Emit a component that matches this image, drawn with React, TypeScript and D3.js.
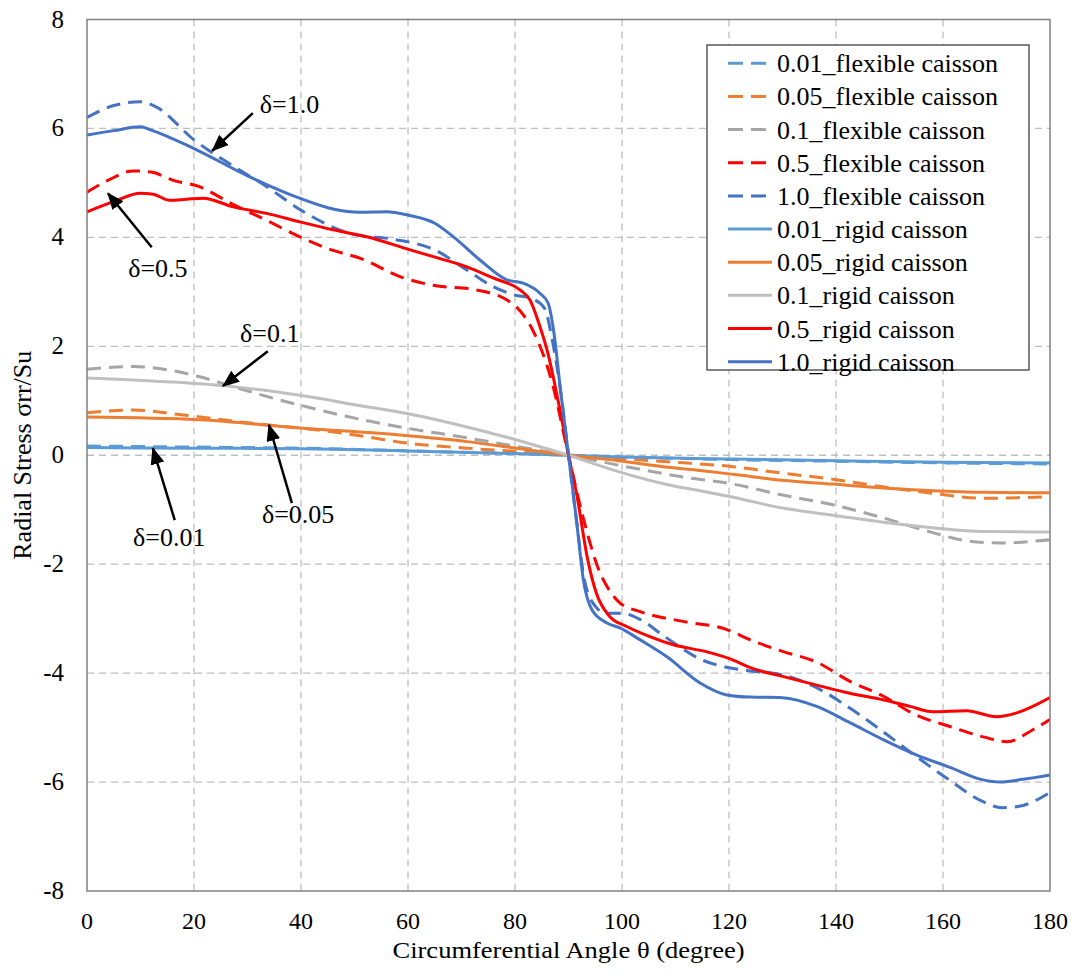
import React from "react";
import * as d3 from "d3";

// ---------- data ----------
const xTicks = [0, 20, 40, 60, 80, 100, 120, 140, 160, 180];
const yTicks = [-8, -6, -4, -2, 0, 2, 4, 6, 8];

const ang001f = [0, 20, 40, 60, 80, 90, 100, 120, 140, 160, 180];
const val001f = [0.17, 0.15, 0.13, 0.08, 0.03, 0, -0.03, -0.08, -0.11, -0.14, -0.16];

const ang005f = [0, 8.6, 18, 30.5, 39.8, 52.3, 58.5, 71, 80.3, 90, 108.6, 120.8, 130, 139.4, 148.8, 158.1, 167.5, 177, 180];
const val005f = [0.78, 0.83, 0.74, 0.59, 0.5, 0.34, 0.24, 0.13, 0.07, 0, -0.12, -0.21, -0.33, -0.44, -0.58, -0.7, -0.79, -0.77, -0.76];

const ang01f = [0, 8.6, 14.9, 21.1, 27.3, 33.6, 39.8, 46, 58.5, 71, 80.3, 90, 102.4, 111.4, 120.8, 130, 139.4, 148.8, 158.1, 164.4, 170.7, 178, 180];
const val01f = [1.58, 1.63, 1.57, 1.44, 1.26, 1.08, 0.92, 0.77, 0.52, 0.32, 0.16, 0, -0.24, -0.4, -0.53, -0.73, -0.91, -1.15, -1.42, -1.57, -1.61, -1.57, -1.55];

const ang05f = [0, 4, 8.6, 12, 16, 21, 27, 33.6, 40, 46, 51, 58.5, 64.7, 73, 78.5, 80.3, 83.3, 87, 90, 92.7, 95.9, 97.2, 99.6, 103.4, 111.4, 119.6, 124, 130, 136.4, 142.6, 148.8, 155, 161.3, 167.5, 172, 176.8, 180];
const val05f = [4.83, 5.05, 5.22, 5.2, 5.05, 4.93, 4.62, 4.31, 4.0, 3.76, 3.62, 3.28, 3.12, 3.03, 2.85, 2.72, 2.3, 1.31, 0, -1.13, -2.16, -2.41, -2.71, -2.87, -3.05, -3.2, -3.39, -3.6, -3.8, -4.15, -4.42, -4.77, -4.98, -5.17, -5.26, -5.04, -4.85];

const ang10f = [0, 5, 10, 13, 20, 27, 33.6, 40, 50, 57, 65, 71, 76, 80, 83, 85.5, 87, 88.5, 90, 91.5, 93, 95, 97, 100, 103.5, 108, 115, 120, 124, 130, 136, 143, 149, 155, 161, 167.5, 171, 174, 180];
const val10f = [6.2, 6.42, 6.49, 6.39, 5.79, 5.33, 4.93, 4.5, 4.05, 3.97, 3.77, 3.4, 3.09, 2.94, 2.88, 2.7, 2.1, 1.2, 0, -1.2, -2.3, -2.77, -2.9, -2.9, -3.02, -3.33, -3.76, -3.9, -3.96, -4.03, -4.25, -4.67, -5.09, -5.53, -5.95, -6.36, -6.47, -6.45, -6.19];

const ang001r = [0, 20, 40, 60, 80, 90, 100, 120, 140, 160, 180];
const val001r = [0.14, 0.13, 0.12, 0.08, 0.03, 0, -0.03, -0.07, -0.1, -0.13, -0.14];

const ang005r = [0, 21, 39.8, 58.5, 71, 80.3, 90, 99.3, 108.6, 114.6, 120.8, 130, 139.4, 148.8, 158.1, 167.5, 180];
const val005r = [0.7, 0.65, 0.5, 0.37, 0.25, 0.13, 0, -0.1, -0.22, -0.28, -0.35, -0.46, -0.53, -0.6, -0.65, -0.68, -0.69];

const ang01r = [0, 14.9, 27.3, 39.8, 52.3, 58.5, 71, 80.3, 90, 99.3, 108.6, 114.6, 120.8, 130, 139.4, 148.8, 158.1, 167.5, 180];
const val01r = [1.42, 1.35, 1.26, 1.1, 0.89, 0.79, 0.52, 0.28, 0, -0.3, -0.54, -0.65, -0.77, -0.97, -1.1, -1.23, -1.33, -1.4, -1.41];

const ang05r = [0, 5.6, 9.9, 12.4, 15.5, 18.6, 21.7, 27.3, 33.6, 40, 46, 52.3, 60.4, 66, 71, 76, 81, 82.8, 84.7, 86, 88.4, 90, 91.5, 93.6, 95.2, 97.7, 100.8, 105.2, 109.6, 115.9, 120.8, 124, 130, 136.4, 142.6, 148.8, 153.8, 158.1, 164.4, 170, 173.8, 180];
const val05r = [4.47, 4.68, 4.81, 4.79, 4.68, 4.7, 4.72, 4.56, 4.44, 4.28, 4.14, 4.01, 3.77, 3.61, 3.46, 3.25, 3.03, 2.85, 2.35, 1.93, 0.83, 0, -0.7, -1.92, -2.53, -2.96, -3.14, -3.33, -3.48, -3.61, -3.76, -3.9, -4.06, -4.22, -4.37, -4.49, -4.61, -4.71, -4.69, -4.8, -4.73, -4.45];

const ang10r = [0, 5, 10, 12, 20, 30, 40, 46, 51, 56, 60, 65, 68.5, 73.5, 78.5, 81.5, 84.7, 86.2, 87.2, 88.5, 90, 91.5, 92.8, 94.4, 97.2, 99.6, 103.4, 108.4, 114.6, 119.6, 124, 130, 136.4, 142.6, 148.8, 155, 161.3, 167.5, 170.7, 175, 180];
const val10r = [5.88, 5.96, 6.03, 5.97, 5.63, 5.13, 4.71, 4.52, 4.46, 4.47, 4.41, 4.26, 4.01, 3.58, 3.22, 3.16, 2.97, 2.79, 2.3, 1.2, 0, -1.2, -2.3, -2.84, -3.08, -3.17, -3.39, -3.7, -4.18, -4.4, -4.44, -4.45, -4.61, -4.91, -5.22, -5.5, -5.73, -5.96, -6.0, -5.95, -5.87];

const seriesNames = [
  "0.01_flexible caisson", "0.05_flexible caisson", "0.1_flexible caisson", "0.5_flexible caisson", "1.0_flexible caisson",
  "0.01_rigid caisson", "0.05_rigid caisson", "0.1_rigid caisson", "0.5_rigid caisson", "1.0_rigid caisson",
];
const seriesAngles = [ang001f, ang005f, ang01f, ang05f, ang10f, ang001r, ang005r, ang01r, ang05r, ang10r];
const seriesValues = [val001f, val005f, val01f, val05f, val10f, val001r, val005r, val01r, val05r, val10r];
const seriesColors = ["#5B9BD5", "#ED7D31", "#A5A5A5", "#FF0000", "#4472C4", "#5B9BD5", "#ED7D31", "#BFBFBF", "#FF0000", "#4472C4"];
const seriesDashed = [true, true, true, true, true, false, false, false, false, false];

// annotations in data units: label, text position, arrow tail, arrow tip
const annLabels = ["δ=1.0", "δ=0.5", "δ=0.1", "δ=0.05", "δ=0.01"];
const annText = [[32.3, 6.28], [7.7, 3.27], [28.6, 2.08], [32.7, -1.24], [8.6, -1.67]];
const annTail = [[31.0, 6.28], [12.1, 3.82], [33.8, 1.91], [38.3, -0.88], [16.4, -1.19]];
const annTip = [[23.4, 5.59], [3.9, 4.81], [25.4, 1.27], [34.0, 0.56], [12.3, 0.13]];

// ---------- layout ----------
const W = 1078, H = 978;
const L = 87, R = 1050, T = 19.5, B = 891;
const FONT = "'Liberation Serif', 'Times New Roman', serif";

export default function App() {
  const x = d3.scaleLinear().domain([0, 180]).range([L, R]);
  const y = d3.scaleLinear().domain([-8, 8]).range([B, T]);
  const line = d3.line<[number, number]>()
    .x((d) => x(d[0]))
    .y((d) => y(d[1]))
    .curve(d3.curveMonotoneX);

  const legendX = 707, legendY = 45, legendW = 322, legendH = 325;
  const rowH = 33.15, row0 = 63.3;

  return (
    <svg width={W} height={H} style={{ position: "absolute", left: 0, top: 0, background: "#fff", fontFamily: FONT }}>
      <defs>
        <marker id="arrow" markerUnits="userSpaceOnUse" markerWidth="18" markerHeight="14" refX="16" refY="7" orient="auto">
          <path d="M0,0 L17,7 L0,14 Z" fill="#000" />
        </marker>
        <clipPath id="plotclip">
          <rect x={L} y={T} width={R - L} height={B - T} />
        </clipPath>
      </defs>
      <rect x={0} y={0} width={W} height={H} fill="#fff" />

      {/* grid */}
      {xTicks.filter((t) => t > 0 && t < 180).map((t) => (
        <line key={"gx" + t} x1={x(t)} x2={x(t)} y1={T} y2={B} stroke="#BFBFBF" strokeWidth={1.3} strokeDasharray="7,5" />
      ))}
      {yTicks.filter((t) => t > -8 && t < 8).map((t) => (
        <line key={"gy" + t} x1={L} x2={R} y1={y(t)} y2={y(t)} stroke="#BFBFBF" strokeWidth={1.3} strokeDasharray="7,5" />
      ))}

      {/* series */}
      <g clipPath="url(#plotclip)">
        {seriesNames.map((n, i) => {
          const pts = seriesAngles[i].map((a, j) => [a, seriesValues[i][j]] as [number, number]);
          return (
            <path key={n} d={line(pts) || ""} fill="none" stroke={seriesColors[i]} strokeWidth={3}
              strokeDasharray={seriesDashed[i] ? "14,8" : undefined} strokeLinejoin="round" />
          );
        })}
      </g>

      {/* plot border */}
      <rect x={L} y={T} width={R - L} height={B - T} fill="none" stroke="#808080" strokeWidth={1.5} />

      {/* ticks labels */}
      {xTicks.map((t) => (
        <text key={"xt" + t} x={x(t)} y={929} fontSize={24} textAnchor="middle" fill="#000" fontFamily={FONT}>{t}</text>
      ))}
      {yTicks.map((t) => (
        <text key={"yt" + t} x={64} y={y(t) + 8} fontSize={25} textAnchor="end" fill="#000" fontFamily={FONT}>{t}</text>
      ))}

      {/* axis titles */}
      <text x={(L + R) / 2} y={958} fontSize={24} textAnchor="middle" fill="#000" fontFamily={FONT}
        textLength={352} lengthAdjust="spacingAndGlyphs">Circumferential Angle θ (degree)</text>
      <text transform={`translate(31, ${y(0)}) rotate(-90)`} fontSize={26} textAnchor="middle" fill="#000" fontFamily={FONT}>Radial Stress σrr/Su</text>

      {/* annotations */}
      {annLabels.map((lab, i) => (
        <g key={lab}>
          <line x1={x(annTail[i][0])} y1={y(annTail[i][1])} x2={x(annTip[i][0])} y2={y(annTip[i][1])}
            stroke="#000" strokeWidth={2.5} markerEnd="url(#arrow)" />
          <text x={x(annText[i][0])} y={y(annText[i][1])} fontSize={26} fill="#000" fontFamily={FONT}>{lab}</text>
        </g>
      ))}

      {/* legend */}
      <rect x={legendX} y={legendY} width={legendW} height={legendH} fill="#fff" stroke="#404040" strokeWidth={1.3} />
      {seriesNames.map((n, i) => {
        const cy = row0 + i * rowH;
        return (
          <g key={"lg" + n}>
            <line x1={728} x2={772} y1={cy} y2={cy} stroke={seriesColors[i]} strokeWidth={3}
              strokeDasharray={seriesDashed[i] ? "15,8" : undefined} />
            <text x={777} y={cy + 9} fontSize={26} fill="#000" fontFamily={FONT}>{n}</text>
          </g>
        );
      })}
    </svg>
  );
}
